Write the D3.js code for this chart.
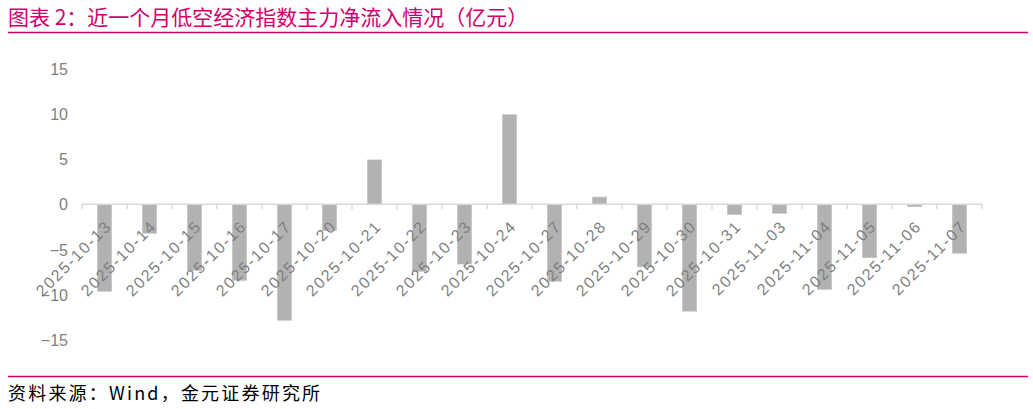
<!DOCTYPE html>
<html><head><meta charset="utf-8">
<script src="https://cdn.jsdelivr.net/npm/d3@7"></script>
<style>body{margin:0;background:#fff;}svg{display:block;}</style>
</head><body><div id="chart"></div>
<script>
const categories = ["2025-10-13","2025-10-14","2025-10-15","2025-10-16","2025-10-17","2025-10-20","2025-10-21","2025-10-22","2025-10-23","2025-10-24","2025-10-27","2025-10-28","2025-10-29","2025-10-30","2025-10-31","2025-11-03","2025-11-04","2025-11-05","2025-11-06","2025-11-07"];
const values = [-9.6,-3.2,-7.3,-8.4,-12.8,-2.9,4.9,-7.4,-6.6,9.9,-8.5,0.8,-6.9,-11.8,-1.15,-1.0,-9.4,-5.9,-0.27,-5.4];
const yTicks = [-15,-10,-5,0,5,10,15];
const titleText = "图表 2：近一个月低空经济指数主力净流入情况（亿元）";
const sourceText = "资料来源：Wind，金元证券研究所";

const W = 1033, H = 409;
const svg = d3.select("#chart").append("svg").attr("width", W).attr("height", H);
const accent = "#d1006b";

svg.append("text").attr("x", 8).attr("y", 25).text(titleText)
  .attr("font-family", "'Noto Sans CJK SC'").attr("font-size", 21).attr("fill", accent);
svg.append("line").attr("x1", 8).attr("x2", 1028).attr("y1", 32.5).attr("y2", 32.5)
  .attr("stroke", accent).attr("stroke-width", 1.5);
svg.append("line").attr("x1", 8).attr("x2", 1028).attr("y1", 376.5).attr("y2", 376.5)
  .attr("stroke", accent).attr("stroke-width", 1.5);
svg.append("text").attr("x", 8).attr("y", 400).text(sourceText)
  .attr("font-family", "'Noto Sans CJK SC'").attr("font-size", 18).attr("letter-spacing", "2.2px").attr("fill", "#000");

const x = d3.scaleBand().domain(categories).range([82, 982]).paddingInner(0.68).paddingOuter(0.34);
const y = d3.scaleLinear().domain([-15, 15]).range([340.2, 68.4]);

// y labels
const yAxis = svg.append("g").attr("transform", "translate(68,0)")
  .call(d3.axisLeft(y).tickValues(yTicks).tickSize(0).tickPadding(0));
yAxis.select(".domain").remove();
yAxis.selectAll("text").attr("font-family", "'Liberation Sans', Arial").attr("font-size", 16)
  .attr("fill", "#7f7f7f").attr("dy", "0.35em");

// bars
svg.append("g").selectAll("rect").data(values).join("rect")
  .attr("x", (d, i) => x(categories[i]))
  .attr("width", x.bandwidth())
  .attr("y", d => y(Math.max(0, d)))
  .attr("height", d => Math.abs(y(d) - y(0)))
  .attr("fill", "#b2b2b2").attr("stroke", "#c8c8c8").attr("stroke-width", 0.6);

// x axis at zero
const xg = svg.append("g").attr("transform", `translate(0,${y(0)})`);
xg.append("line").attr("x1", 82).attr("x2", 982).attr("stroke", "#d9d9d9").attr("stroke-width", 1.5);
const step = x.step();
const tickXs = d3.range(categories.length + 1).map(i => 82 + i * step);
xg.selectAll(".tk").data(tickXs).join("line").attr("class", "tk")
  .attr("x1", d => d).attr("x2", d => d).attr("y1", 0).attr("y2", 5)
  .attr("stroke", "#d9d9d9").attr("stroke-width", 1.5);
xg.selectAll(".lbl").data(categories).join("text").attr("class", "lbl")
  .attr("transform", d => `translate(${x(d) + x.bandwidth() / 2 + 4},${19}) rotate(-45)`)
  .attr("text-anchor", "end").attr("dy", "0.35em")
  .attr("font-family", "'Liberation Sans', Arial").attr("font-size", 16)
  .attr("letter-spacing", "1.7px")
  .attr("fill", "#7f7f7f").text(d => d);
</script></body></html>
